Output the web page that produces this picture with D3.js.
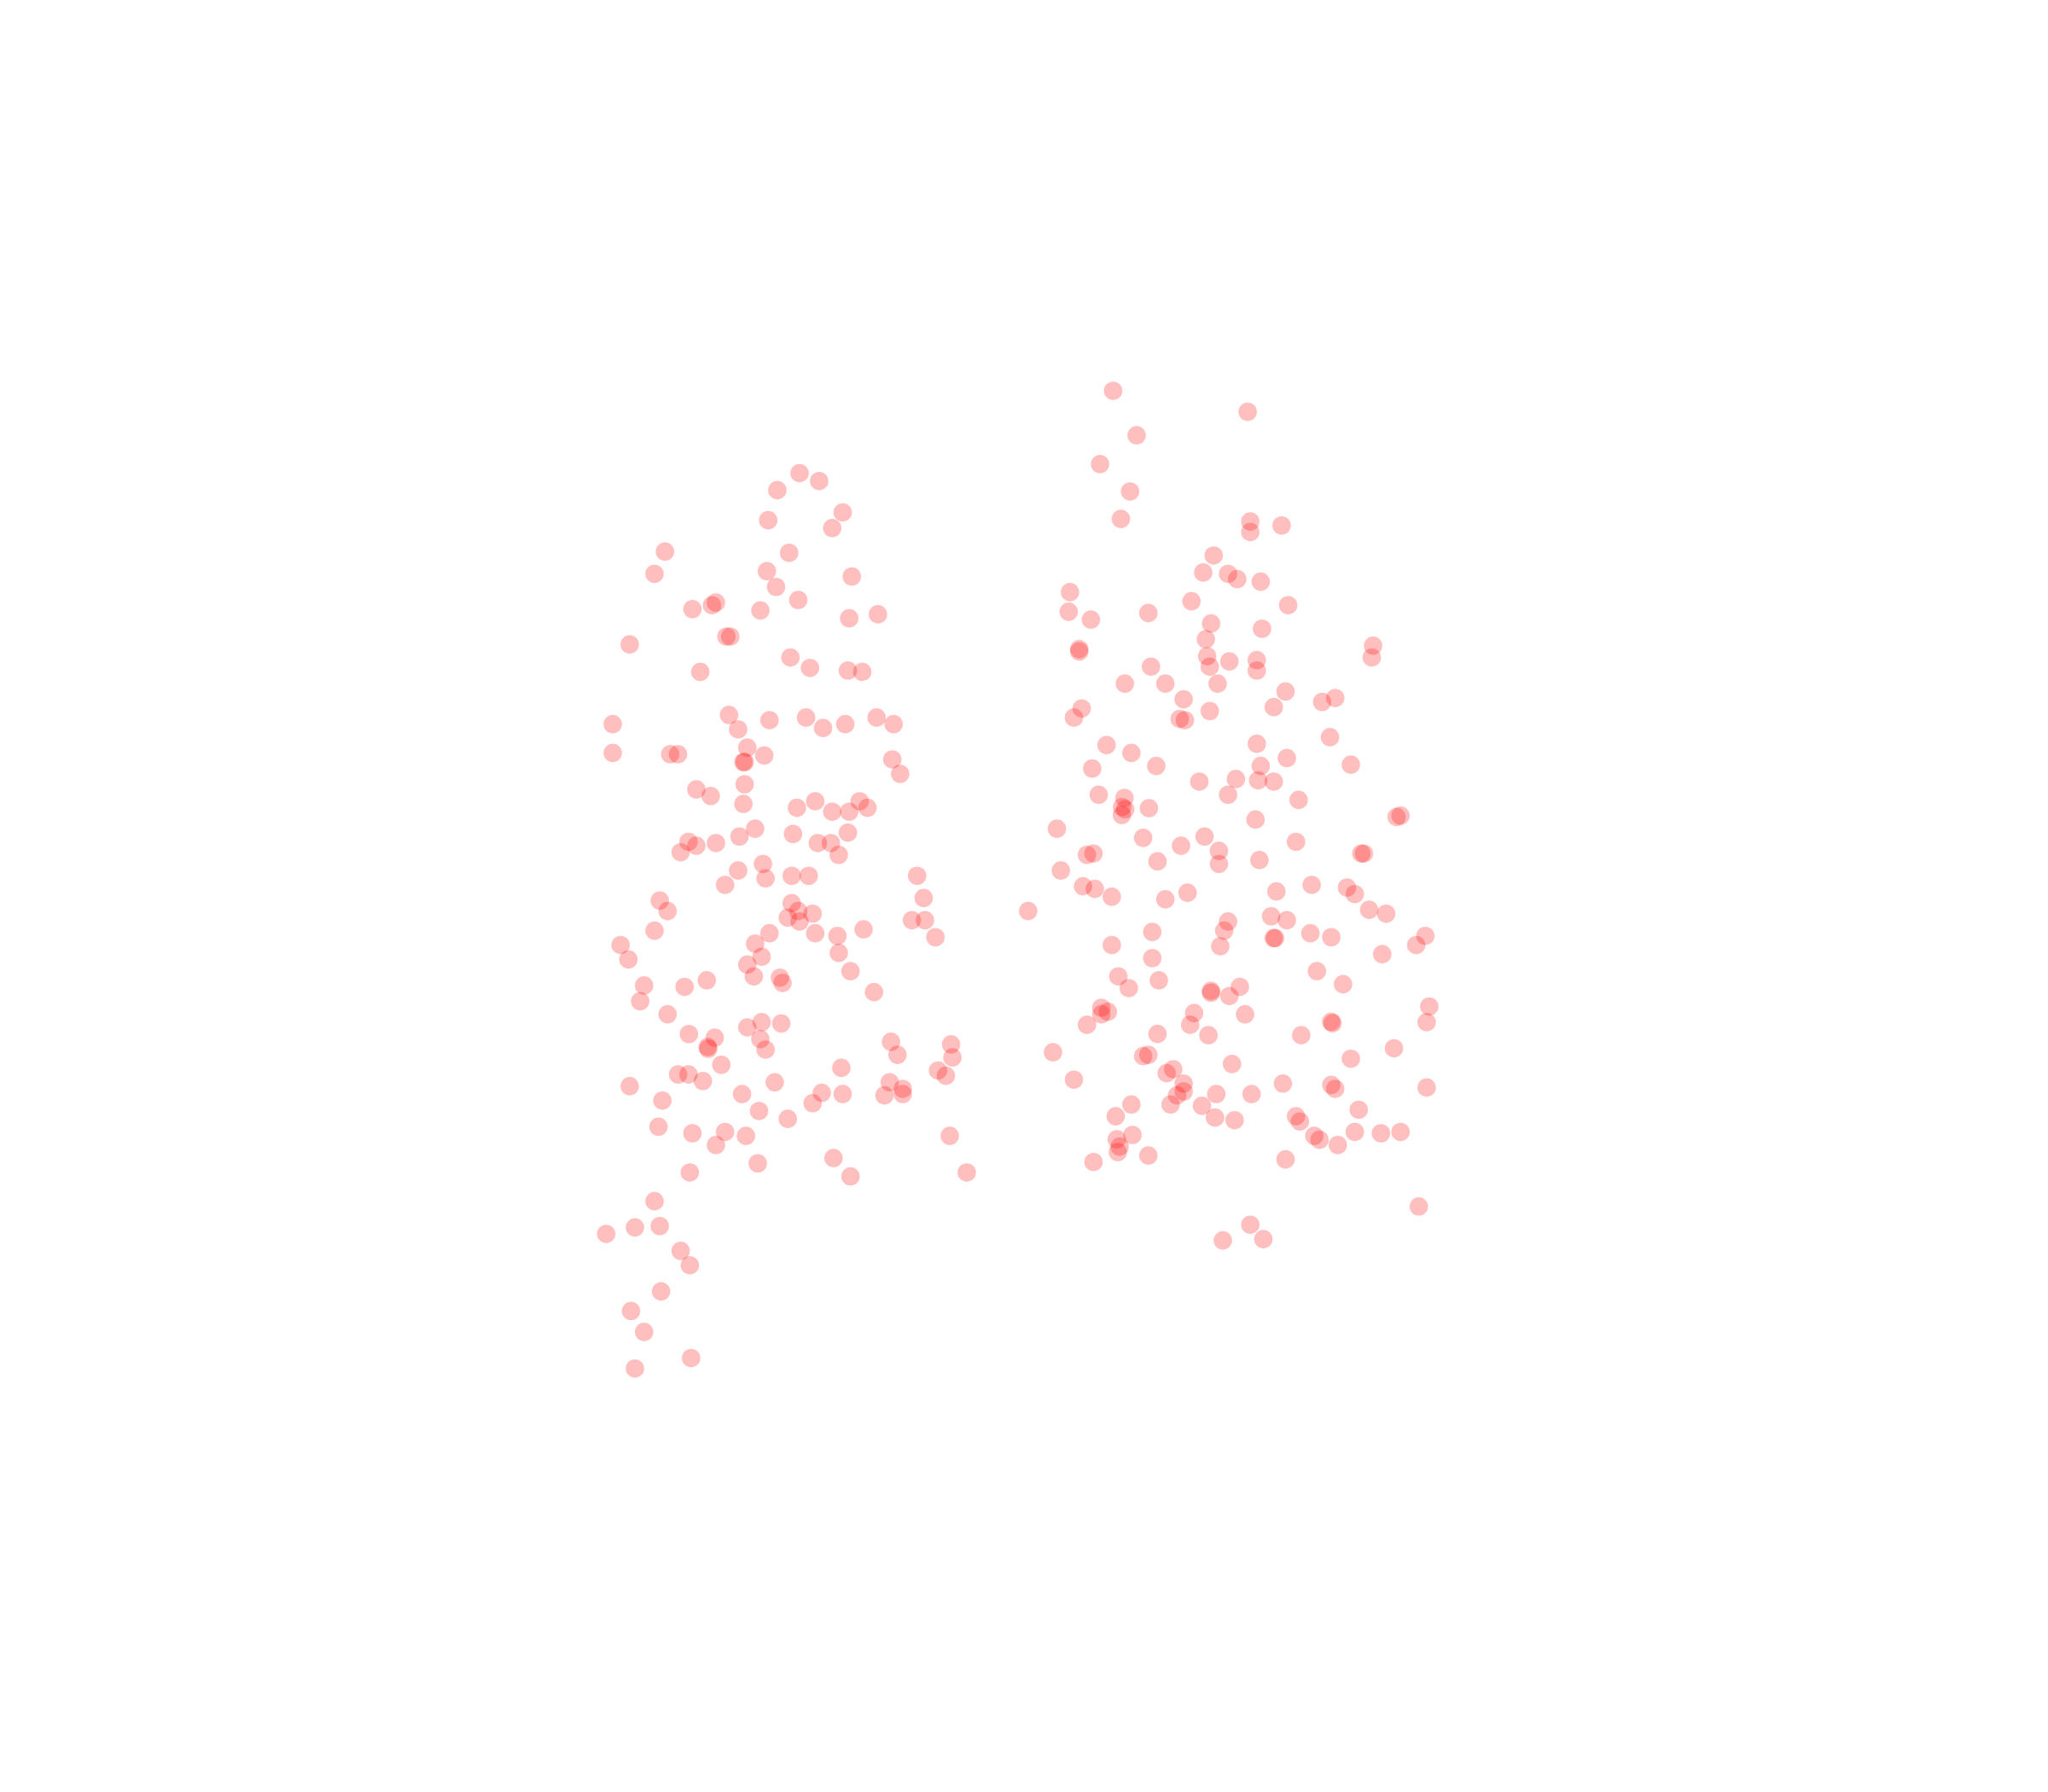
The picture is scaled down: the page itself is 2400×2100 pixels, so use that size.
<!DOCTYPE html>
<html>
<head>
<meta charset="utf-8">
<script src="https://cdn.jsdelivr.net/npm/d3@7/dist/d3.min.js"></script>
<style>html,body{margin:0;padding:0;background:#fff}svg{display:block}</style>
</head>
<body>
<svg id="c" width="2400" height="2100"></svg>
<script>
const leftSeries = [[612,362],[627,368],[595,375],[645,392],[588,398],[637,404],[604,423],[509,422],[501,439],[587,437],[652,441],[594,449],[611,459],[530,466],[545,463],[548,461],[582,467],[650,473],[672,470],[556,487],[559,487],[482,493],[605,503],[620,511],[536,514],[649,513],[660,514],
[558,547],[589,551],[617,549],[565,558],[630,557],[647,554],[671,549],[684,554],[469,554],[469,576],[513,577],[519,577],[572,572],[585,578],[569,583],[570,583],[683,581],[689,592],[570,600],[533,604],[544,609],[569,615],[610,618],[624,613],[637,621],[650,621],[658,613],[664,618],[578,634],[607,638],[649,637],[566,640],[527,644],[533,647],[521,652],[548,645],[626,645],[636,645],[642,654],[584,661],[565,666],[606,670],[619,670],[586,672],[555,677],[702,670],[707,687],[505,689],[511,697],[606,691],[611,697],[622,699],[603,702],[612,705],[698,704],[708,704],[501,712],[589,714],[624,714],[641,716],[661,711],[716,717],[475,723],[578,722],[583,732],[642,729],[481,734],[572,738],[577,747],[651,743],[597,748],[599,752],[493,754],[524,755],[541,750],[669,759],[490,766],[511,776],[583,782],[598,783],[572,786],[527.3,791.1],[547.1,793.9],[582,795],[541.7,800.9],[542.1,802.4],[586,803],[682,797],[728,799],[687,807],[729,809],[644,817],[552.1,814.6],[519,822],[527,822],[538,827],[482,831],[593,828],[681,828],[691,833],[691,837],[677,838],[718,819],[724,823],[568,837],[629,836],[645,837],[507,842],[622,844],[581,850],[603,856],[504,862],[530,867],[555,866],[571,869],[548,876],[727,869],[528,897],[580,890],[638,886],[651,900],[740,897],[501,919],[486,939],[505,938],[464,944],[521,957],[528,968],[506,988],[483,1003],[493,1019],[486,1047],[529,1039]];
const rightSeries = [[852,299],[955,315],[870,333],[842,355],[865,376],[858,397],[957,399],[957,407],[981,402],[929,425],[921,438],[940,439],[947,443],[965,445],[819,453],[818,468],[835,474],[879,469],[912,460],[986,463],[927,477],[966,481],[923,489],[826.1,496.6],[826.1,498.4],[1051,494],[1050,503],[924,502],[926,510],[941,506],[962,505],[962,513],[881,510],[861,523],[892,523],[932,523],[984,529],[906,535],[1012,537],[1022,534],[828,542],[822,549],[903,550],[907,551],[926,544],[975,541],[847,570],[866,576],[962,569],[1018,564],[885,586],[836,588],[965,586],[985,580],[1034,585],[918,598],[946,596],[963,597],[975,598],[841,608],[860.7,610.4],[940,608],[994,612],[858.9,617.4],[861.3,619.1],[858.7,623.5],[879.4,618.3],[961,627],[1069,625],[1072,624],[809,634],[875,641],[922,640],[904,647],[992,644],[832,654],[837,653],[933,651],[1042,653],[1044,653],[886,659],[933,661],[964,658],[812,666],[1004,677],[829,678],[838,680],[851,686],[909,683],[977,682],[1031,679],[1037,684],[892,688],[787,697],[1048,696],[1061,699],[940,705],[973,701],[985,704],[937,712],[882,713],[1003,714],[974.9,717.7],[976,717.7],[1019,717],[1091,716],[851,723],[934,724],[1084,723],[882,733],[1058,730],[1008,743],[856,747],[887,750],[864,756],[949,755],[926.9,758],[927,759.5],[941,762],[1028,753],[1094,770],[843,771],[848,774],[843,776],[914,775],[953,776],[832,784],[911,784],[1018.9,781.7],[1020,782.8],[1092,782],[886,791],[925,792],[996,792],[806,805],[875,808],[879,807],[1067,802],[1034,810],[943,814],[898,818],[893,821],[822,826],[906,829],[982,829],[1019,830],[1022,833],[1092,832],[906,835],[901,838],[931,837],[958,837],[866,845],[896,845],[920,846],[1040,849],[854,854],[930,855],[945,857],[992,854],[995,858],[1037,866],[1057,867],[1072,866],[866.8,868.3],[854.8,871.6],[857,877.2],[855.6,881.4],[1006,869],[1010,872],[1024,876],[879,884],[837,889],[984,887],[1086,923],[957,937],[936,949],[967,948]];

const x = d3.scaleLinear().domain([0, 1567.6]).range([0, 2400]);
const y = d3.scaleLinear().domain([0, 1371]).range([0, 2100]);
const svg = d3.select("#c");
svg.append("g").selectAll("circle")
  .data(leftSeries.concat(rightSeries))
  .join("circle")
  .attr("cx", d => x(d[0]))
  .attr("cy", d => y(d[1]))
  .attr("r", 10.8)
  .attr("fill", "#ff0000")
  .attr("fill-opacity", 0.25);
</script>
</body>
</html>
